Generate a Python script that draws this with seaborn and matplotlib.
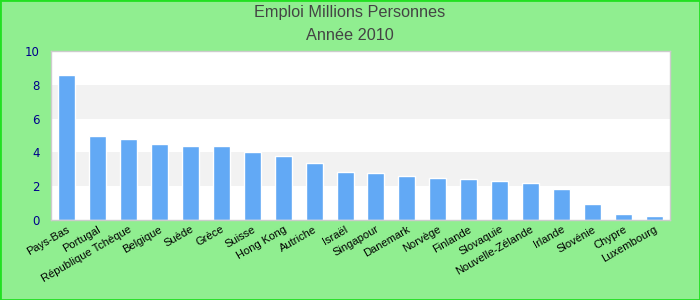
import matplotlib
matplotlib.use("Agg")
import matplotlib.pyplot as plt
import seaborn as sns
import pandas as pd

countries = ["Pays-Bas", "Portugal", "République Tchèque", "Belgique", "Suède", "Grèce",
             "Suisse", "Hong Kong", "Autriche", "Israël", "Singapour", "Danemark",
             "Norvège", "Finlande", "Slovaquie", "Nouvelle-Zélande", "Irlande",
             "Slovénie", "Chypre", "Luxembourg"]
values = [8.6, 5.0, 4.8, 4.5, 4.4, 4.4, 4.0, 3.8, 3.4, 2.85, 2.8, 2.6,
          2.5, 2.45, 2.3, 2.2, 1.85, 0.95, 0.38, 0.25]
yticks = [0, 2, 4, 6, 8, 10]
title_lines = ["Emploi Millions Personnes", "Année 2010"]

df = pd.DataFrame({"pays": countries, "emploi": values})

sns.set_theme(style="white")
plt.rcParams["font.family"] = ["Liberation Sans", "DejaVu Sans"]

fig = plt.figure(figsize=(7, 3), dpi=100, facecolor="#90EE90")
ax = fig.add_axes([51/700, 80/300, 619/700, 169/300])
ax.set_facecolor("white")

for i in range(len(yticks) - 1):
    if i % 2 == 1:
        ax.axhspan(yticks[i], yticks[i + 1], color="#f2f2f2", zorder=0, lw=0)

sns.barplot(data=df, x="pays", y="emploi", color="#62A9F5", width=0.55,
            saturation=1, ax=ax, zorder=2)

ax.set_xlim(-0.5, len(countries) - 0.5)
ax.set_ylim(0, 10)
ax.set_yticks(yticks)
ax.set_xlabel("")
ax.set_ylabel("")
ax.tick_params(axis="y", colors="#00008B", labelsize=8.5, length=0, pad=8)
ax.tick_params(axis="x", colors="black", labelsize=8, length=0, pad=3)
for lbl in ax.get_yticklabels():
    lbl.set_fontfamily(["DejaVu Sans"])
plt.setp(ax.get_xticklabels(), rotation=30, ha="right", rotation_mode="anchor")
for s in ax.spines.values():
    s.set_color("#cccccc")
    s.set_linewidth(1)

fig.text(0.5, 1 - 13/300, title_lines[0], ha="center", va="center", fontsize=11.7, color="#444444")
fig.text(0.5, 1 - 36/300, title_lines[1], ha="center", va="center", fontsize=11.7, color="#444444")

border = plt.Rectangle((0, 0), 1, 1, transform=fig.transFigure, fill=False,
                       edgecolor="#22e022", linewidth=2)
fig.patches.append(border)

fig.savefig("out.png", dpi=100, facecolor=fig.get_facecolor())
